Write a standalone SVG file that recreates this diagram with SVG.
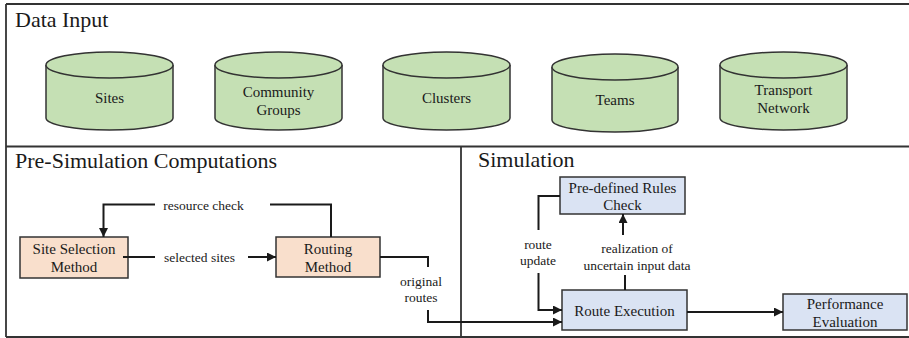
<svg xmlns="http://www.w3.org/2000/svg" width="909" height="338" viewBox="0 0 909 338">
<defs>
<marker id="ah" viewBox="0 0 10 10" refX="10" refY="5" markerWidth="4.5" markerHeight="4.5" orient="auto" markerUnits="strokeWidth">
<path d="M0,0 L10,5 L0,10 z" fill="#1a1a1a"/>
</marker>
</defs>
<style>
text{fill:#1a1a1a}
.title{font-size:22px}
.node{font-size:15px;text-anchor:middle}
.lbl{font-size:13.5px;text-anchor:middle}
.frame{fill:none;stroke:#333;stroke-width:1.8}
.cyl{fill:#c5e0b4;stroke:#333;stroke-width:1.5}
.peach{fill:#f9dfcc;stroke:#333;stroke-width:1.5}
.blue{fill:#dae3f3;stroke:#333;stroke-width:1.5}
.conn{fill:none;stroke:#1a1a1a;stroke-width:2}
</style>
<rect width="909" height="338" fill="#fff"/>
<g font-family="'Liberation Serif', 'Times New Roman', Times, 'DejaVu Serif', serif">
<g id="frames">
<path class="frame" d="M6,4 H909 M6,4 V337 M6,337 H909 M6,146.5 H909 M461,146.5 V338"/>
<text class="title" x="15" y="27">Data Input</text>
<text class="title" x="15" y="168">Pre-Simulation Computations</text>
<text class="title" x="478" y="167">Simulation</text>
</g>
<g id="sites">
<path class="cyl" d="M46,65 V118 A63.5,12 0 0 0 173,118 V65"/>
<ellipse class="cyl" cx="109.5" cy="65" rx="63.5" ry="13"/>
<text class="node" x="109.5" y="103">Sites</text>
</g>
<g id="community-groups">
<path class="cyl" d="M215,65 V118 A63.5,12 0 0 0 342,118 V65"/>
<ellipse class="cyl" cx="278.5" cy="65" rx="63.5" ry="13"/>
<text class="node" x="278.5" y="97">Community</text>
<text class="node" x="278.5" y="115">Groups</text>
</g>
<g id="clusters">
<path class="cyl" d="M383,65 V118 A63.5,12 0 0 0 510,118 V65"/>
<ellipse class="cyl" cx="446.5" cy="65" rx="63.5" ry="13"/>
<text class="node" x="446.5" y="103">Clusters</text>
</g>
<g id="teams">
<path class="cyl" d="M552,67 V120 A63,12 0 0 0 678,120 V67"/>
<ellipse class="cyl" cx="615" cy="67" rx="63" ry="13"/>
<text class="node" x="615" y="105">Teams</text>
</g>
<g id="transport-network">
<path class="cyl" d="M720,65 V118 A63.5,12 0 0 0 847,118 V65"/>
<ellipse class="cyl" cx="783.5" cy="65" rx="63.5" ry="13"/>
<text class="node" x="783.5" y="95">Transport</text>
<text class="node" x="783.5" y="112.5">Network</text>
</g>
<g id="site-selection">
<rect class="peach" x="20" y="237" width="108" height="41"/>
<text class="node" x="74" y="254">Site Selection</text>
<text class="node" x="74" y="272">Method</text>
</g>
<g id="routing">
<rect class="peach" x="276" y="237" width="104" height="40"/>
<text class="node" x="328" y="254">Routing</text>
<text class="node" x="328" y="272">Method</text>
</g>
<g id="rules-check">
<rect class="blue" x="560" y="177" width="125" height="37"/>
<text class="node" x="622.5" y="193">Pre-defined Rules</text>
<text class="node" x="622.5" y="210">Check</text>
</g>
<g id="route-execution">
<rect class="blue" x="562" y="290" width="125" height="40"/>
<text class="node" x="624.5" y="316">Route Execution</text>
</g>
<g id="performance">
<rect class="blue" x="783" y="294" width="124" height="36"/>
<text class="node" x="845" y="309">Performance</text>
<text class="node" x="845" y="327">Evaluation</text>
</g>
<g id="connectors">
<path class="conn" d="M331,237 V204.5 H270"/>
<path class="conn" d="M155,204.5 H103.5 V237" marker-end="url(#ah)"/>
<text class="lbl" x="203.5" y="209.5">resource check</text>
<path class="conn" d="M123,257 H155"/>
<path class="conn" d="M248,257 H276" marker-end="url(#ah)"/>
<text class="lbl" x="199.5" y="261.5">selected sites</text>
<path class="conn" d="M380,257 H428 V267"/>
<path class="conn" d="M428,310 V322 H562" marker-end="url(#ah)"/>
<text class="lbl" x="421" y="286">original</text>
<text class="lbl" x="421" y="302">routes</text>
<path class="conn" d="M560,196 H538.5 V230"/>
<path class="conn" d="M538.5,273 V310 H562" marker-end="url(#ah)"/>
<text class="lbl" x="538" y="248.5">route</text>
<text class="lbl" x="538" y="264.5">update</text>
<path class="conn" d="M625,290 V275"/>
<path class="conn" d="M623,235 V214" marker-end="url(#ah)"/>
<text class="lbl" x="637" y="252.5">realization of</text>
<text class="lbl" x="637" y="269.5">uncertain input data</text>
<path class="conn" d="M687,312 H783" marker-end="url(#ah)"/>
</g>
</g>
</svg>
